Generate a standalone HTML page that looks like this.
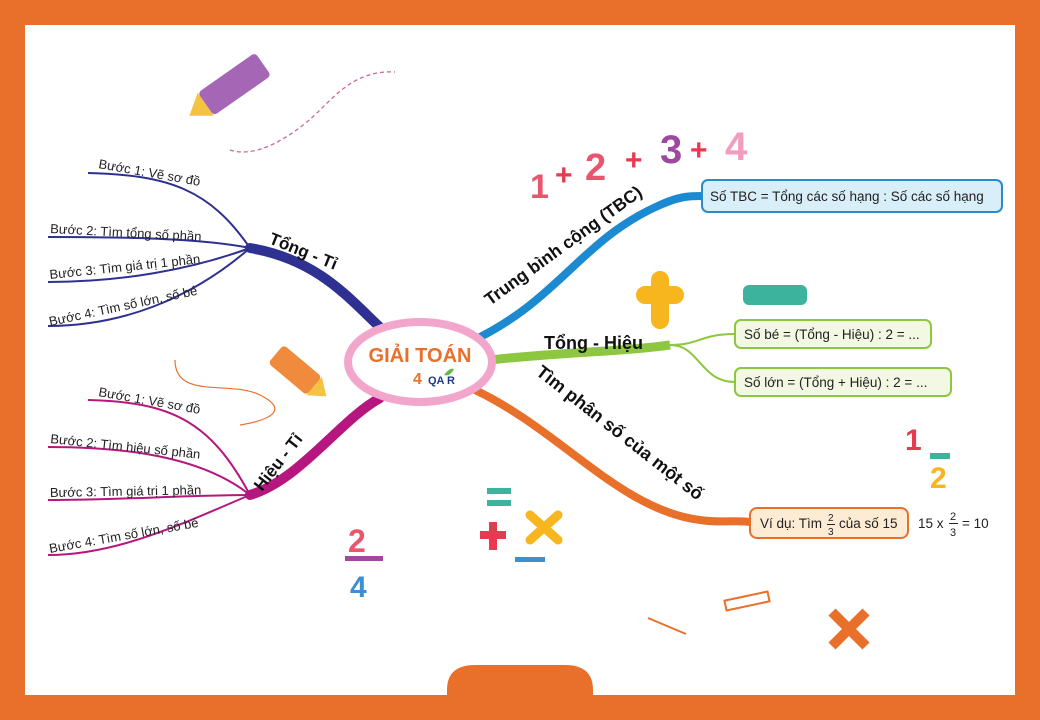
<!DOCTYPE html><html><head><meta charset="utf-8"><style>
body{margin:0;width:1040px;height:720px;overflow:hidden;background:#E8702A}
svg{display:block;font-family:"Liberation Sans",sans-serif}
</style></head><body>
<svg width="1040" height="720" viewBox="0 0 1040 720">
<rect x="0" y="0" width="1040" height="720" fill="#E8702A"/>
<rect x="25" y="25" width="990" height="670" fill="#fff"/>
<path d="M447 695 V690 Q447 665 475 665 H565 Q593 665 593 690 V695 Z" fill="#E8702A"/>
<g transform="rotate(-35 235 85)"><rect x="200" y="70" width="70" height="28" rx="4" fill="#A566B5"/><polygon points="200,70 180,84 200,98" fill="#F5C342"/></g>
<path d="M230 150 C260 160 300 130 320 110 C340 90 360 70 395 72" stroke="#C56A9E" stroke-width="1.3" fill="none" stroke-dasharray="4 3"/>
<g transform="rotate(40 295 370)"><rect x="270" y="358" width="50" height="24" rx="4" fill="#F08A3C"/><polygon points="320,358 336,370 320,382" fill="#F5C342"/></g>
<path d="M175 360 C175 400 230 380 260 395 C290 410 270 420 240 425" stroke="#E8702A" stroke-width="1.2" fill="none"/>
<text x="530" y="198" font-size="34" font-weight="bold" fill="#E9556C">1</text>
<text x="555" y="185" font-size="30" font-weight="bold" fill="#E53A4F">+</text>
<text x="585" y="180" font-size="38" font-weight="bold" fill="#E9556C">2</text>
<text x="625" y="170" font-size="30" font-weight="bold" fill="#E53A4F">+</text>
<text x="660" y="163" font-size="40" font-weight="bold" fill="#9B4A9F">3</text>
<text x="690" y="160" font-size="30" font-weight="bold" fill="#E53A4F">+</text>
<text x="725" y="160" font-size="40" font-weight="bold" fill="#F29CC0">4</text>
<path d="M645 295 H675 M660 280 V320" stroke="#F7B51E" stroke-width="18" stroke-linecap="round"/>
<rect x="743" y="285" width="64" height="20" rx="6" fill="#3BB39D"/>
<text x="905" y="450" font-size="30" font-weight="bold" fill="#E53A4F">1</text>
<rect x="930" y="453" width="20" height="6" fill="#3BB39D"/>
<text x="930" y="488" font-size="30" font-weight="bold" fill="#F7B51E">2</text>
<rect x="487" y="488" width="24" height="6" fill="#3BB39D"/><rect x="487" y="500" width="24" height="6" fill="#3BB39D"/>
<path d="M480 535 H506 M493 522 V550" stroke="#E53A4F" stroke-width="8"/>
<path d="M530 515 L558 540 M558 515 L530 540" stroke="#F7B51E" stroke-width="9" stroke-linecap="round"/>
<rect x="515" y="557" width="30" height="5" fill="#3B8FD4"/>
<text x="348" y="552" font-size="32" font-weight="bold" fill="#E9556C">2</text>
<rect x="345" y="556" width="38" height="5" fill="#9B4A9F"/>
<text x="350" y="597" font-size="30" font-weight="bold" fill="#3B8FD4">4</text>
<path d="M648 618 L686 634" stroke="#E8702A" stroke-width="2" fill="none"/>
<rect x="725" y="596" width="44" height="10" fill="none" stroke="#E8702A" stroke-width="2" transform="rotate(-12 747 601)"/>
<path d="M832 612 L866 646 M866 612 L832 646" stroke="#E8702A" stroke-width="10" fill="none"/>
<path d="M385 332 C350 300 320 260 250 248" stroke="#2E3192" stroke-width="10" fill="none" stroke-linecap="round"/>
<g stroke="#2E3192" stroke-width="2" fill="none">
<path d="M250 248 C210 190 170 175 88 173"/><path d="M250 248 C200 238 120 237 48 237"/><path d="M250 248 C190 270 120 282 48 282"/><path d="M250 248 C190 300 120 326 48 326"/></g>
<path d="M380 398 C340 420 300 480 250 495" stroke="#B5177E" stroke-width="10" fill="none" stroke-linecap="round"/>
<g stroke="#B5177E" stroke-width="2" fill="none">
<path d="M250 495 C210 420 170 402 88 400"/><path d="M250 495 C200 455 120 447 48 447"/><path d="M250 495 C190 495 120 500 48 500"/><path d="M250 495 C190 520 120 555 48 555"/></g>
<path d="M470 342 C560 300 580 240 660 205 C680 196 690 196 702 196" stroke="#1C8AD0" stroke-width="8" fill="none"/>
<path d="M490 360 C560 352 620 352 670 345" stroke="#8DC63F" stroke-width="9" fill="none"/>
<path d="M670 345 C700 345 700 334 735 334 M670 345 C700 345 700 382 735 382" stroke="#8DC63F" stroke-width="2" fill="none"/>
<path d="M475 390 C560 430 620 510 700 520 C720 523 730 520 750 522" stroke="#E8702A" stroke-width="8" fill="none"/>
<ellipse cx="420" cy="362" rx="72" ry="40" fill="#fff" stroke="#F2A6CC" stroke-width="8"/>
<text x="420" y="362" text-anchor="middle" font-size="20" font-weight="bold" fill="#E8702A">GIẢI TOÁN</text>
<text x="413" y="384" font-size="16" font-weight="bold" fill="#E8702A">4</text>
<text x="428" y="384" font-size="11" font-weight="bold" fill="#1E3A8A">QA</text><text x="447" y="384" font-size="11" font-weight="bold" fill="#1E3A8A">R</text>
<path d="M444 375 q6 -8 10 -6 q-4 8 -10 6" fill="#5DBB46"/>
<g font-size="13" fill="#222">
<text transform="translate(98 168) rotate(10)">Bước 1: Vẽ sơ đồ</text>
<text transform="translate(50 233) rotate(3)">Bước 2: Tìm tổng số phần</text>
<text transform="translate(50 279) rotate(-6)">Bước 3: Tìm giá trị 1 phần</text>
<text transform="translate(50 326) rotate(-12)">Bước 4: Tìm số lớn, số bé</text>
<text transform="translate(98 396) rotate(10)">Bước 1: Vẽ sơ đồ</text>
<text transform="translate(50 443) rotate(6)">Bước 2: Tìm hiệu số phần</text>
<text transform="translate(50 497) rotate(-1)">Bước 3: Tìm giá trị 1 phần</text>
<text transform="translate(50 553) rotate(-10)">Bước 4: Tìm số lớn, số bé</text>
</g>
<g font-size="17" font-weight="bold" fill="#111">
<text transform="translate(268 243) rotate(22)">Tổng - Tỉ</text>
<text transform="translate(262 492) rotate(-52)">Hiệu - Tỉ</text>
<text transform="translate(490 306) rotate(-36)" font-size="17.5">Trung bình cộng (TBC)</text>
<text x="544" y="349" font-size="18">Tổng - Hiệu</text>
<text transform="translate(535 374) rotate(38)" font-size="18">Tìm phân số của một số</text>
</g>
<rect x="702" y="180" width="300" height="32" rx="6" fill="#D8EEF9" stroke="#2B8AC8" stroke-width="2"/>
<text x="710" y="201" font-size="13.5" fill="#222">Số TBC = Tổng các số hạng : Số các số hạng</text>
<rect x="735" y="320" width="196" height="28" rx="6" fill="#F2F8E2" stroke="#8DC63F" stroke-width="2"/>
<text x="744" y="339" font-size="13.5" fill="#222">Số bé = (Tổng - Hiệu) : 2 = ...</text>
<rect x="735" y="368" width="216" height="28" rx="6" fill="#F2F8E2" stroke="#8DC63F" stroke-width="2"/>
<text x="744" y="387" font-size="13.5" fill="#222">Số lớn = (Tổng + Hiệu) : 2 = ...</text>
<rect x="750" y="508" width="158" height="30" rx="7" fill="#FDEBD3" stroke="#E8702A" stroke-width="2"/>
<g font-size="13.5" fill="#222">
<text x="760" y="528">Ví dụ: Tìm</text>
<text x="828" y="521" font-size="10">2</text><rect x="827" y="524" width="8" height="1" fill="#222"/><text x="828" y="535" font-size="10">3</text>
<text x="839" y="528">của số 15</text>
<text x="918" y="528">15 x</text>
<text x="950" y="520" font-size="11">2</text><rect x="949" y="523" width="9" height="1" fill="#222"/><text x="950" y="536" font-size="11">3</text>
<text x="962" y="528">= 10</text>
</g>
</svg>
</body></html>
